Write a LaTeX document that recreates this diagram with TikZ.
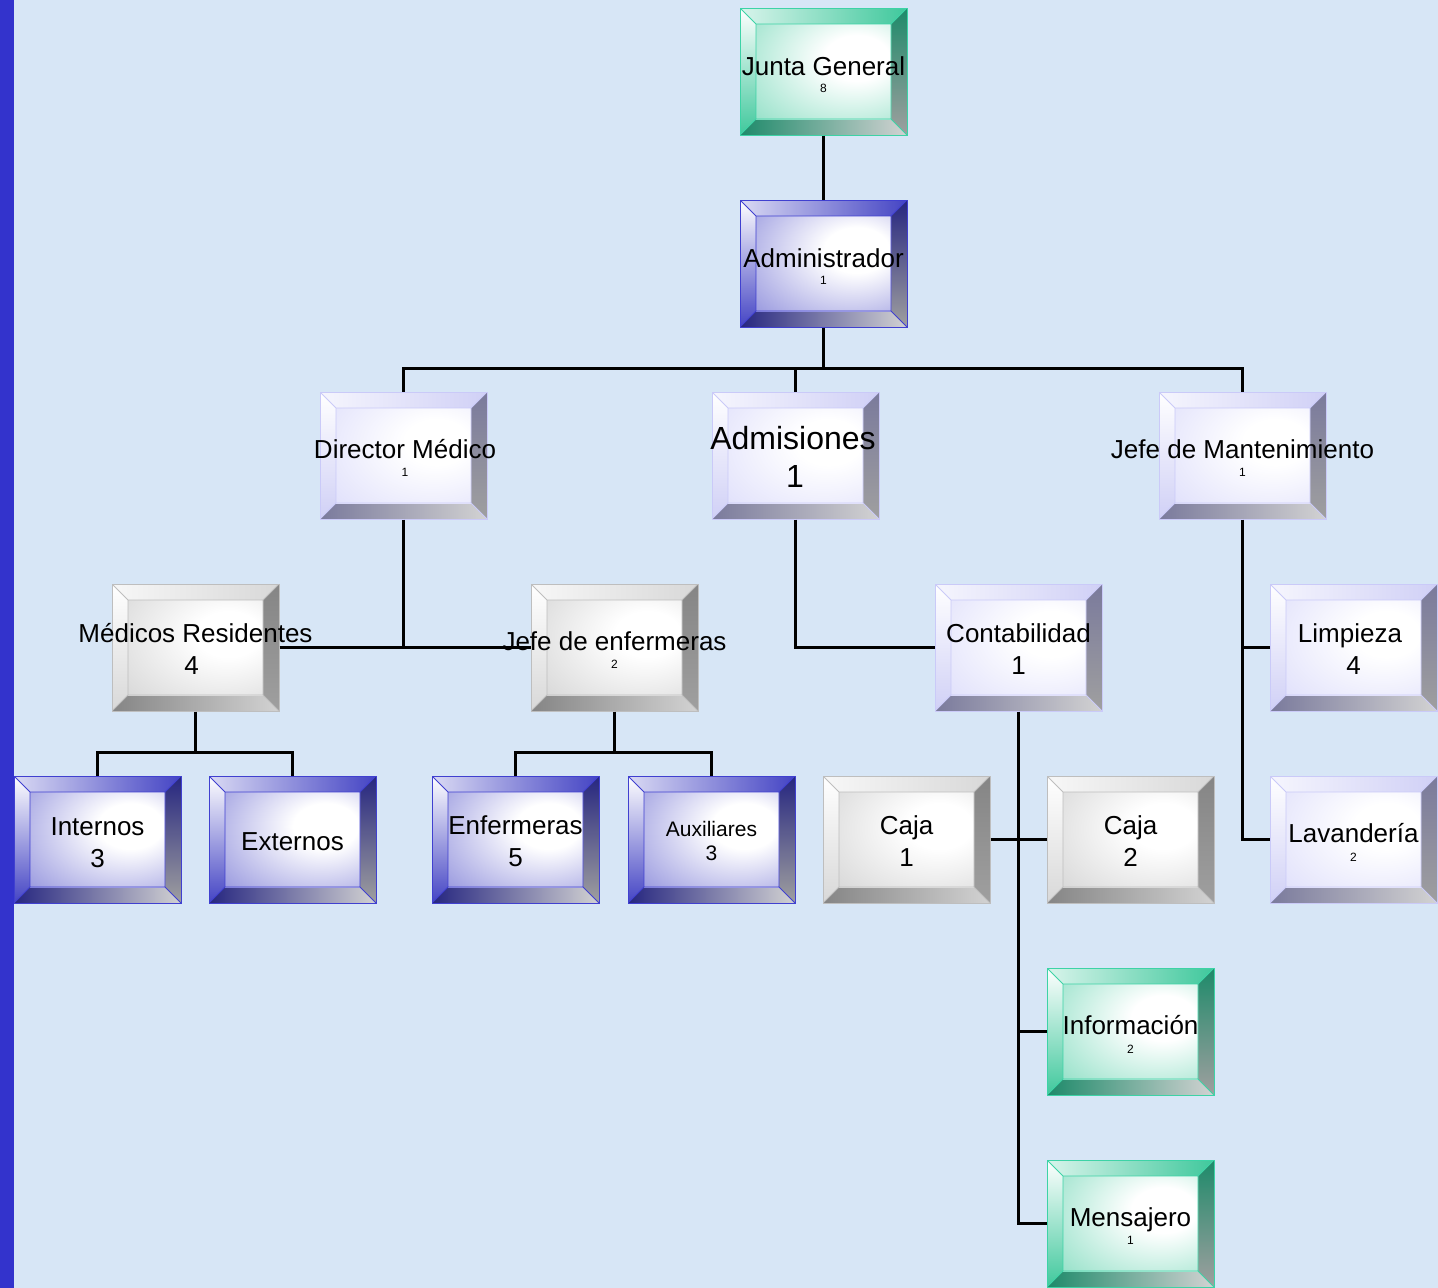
\documentclass[tikz,border=0pt]{standalone}
\usepackage{fontspec}
\setmainfont{Liberation Sans}
\usetikzlibrary{calc}
\definecolor{bgc}{HTML}{D7E6F6}
\definecolor{barc}{HTML}{3333CC}
\definecolor{gBd}{HTML}{3DD3A6}
\definecolor{gFc}{HTML}{3FC89C}
\definecolor{gDk}{HTML}{1E8A6A}
\definecolor{bBd}{HTML}{4040D0}
\definecolor{bFc}{HTML}{4444C4}
\definecolor{bDk}{HTML}{262680}
\definecolor{lBd}{HTML}{CACAF8}
\definecolor{lFc}{HTML}{C8C8F8}
\definecolor{lLt}{HTML}{D0D0F6}
\definecolor{lDk}{HTML}{7A7A9C}
\definecolor{yBd}{HTML}{BEBEBE}
\definecolor{yFc}{HTML}{B8B8B8}
\definecolor{yLt}{HTML}{D8D8D8}
\definecolor{yDk}{HTML}{858585}
\colorlet{facec}{gray}
\pgfdeclareradialshading[facec]{facesh}{\pgfpoint{14bp}{8bp}}{%
  color(0bp)=(white); color(12bp)=(white); color(45bp)=(facec!55!white);
  color(80bp)=(facec); color(100bp)=(facec)}
\tikzset{
  bev/.style n args={4}{rectangle, minimum width=167pt, minimum height=127pt,
    inner sep=0pt, draw=#1, line width=1pt,
    path picture={
      \path (path picture bounding box.north west) coordinate (pNW)
            (path picture bounding box.north east) coordinate (pNE)
            (path picture bounding box.south west) coordinate (pSW)
            (path picture bounding box.south east) coordinate (pSE);
      \path ([shift={(16pt,-16pt)}]pNW) coordinate (qNW)
            ([shift={(-16pt,-16pt)}]pNE) coordinate (qNE)
            ([shift={(16pt,16pt)}]pSW) coordinate (qSW)
            ([shift={(-16pt,16pt)}]pSE) coordinate (qSE);
      \shade[left color=#3!20!white, right color=#3] (pNW) -- (pNE) -- (qNE) -- (qNW) -- cycle;
      \shade[top color=white, bottom color=#3] (pNW) -- (qNW) -- (qSW) -- (pSW) -- cycle;
      \shade[top color=#4, bottom color=gray!75] (pNE) -- (pSE) -- (qSE) -- (qNE) -- cycle;
      \shade[left color=#4, right color=gray!35] (pSW) -- (qSW) -- (qSE) -- (pSE) -- cycle;
      \colorlet{facec}{#2}
      \shade[shading=facesh] (qNW) rectangle (qSE);
      \draw[#1, line width=0.8pt] (pNW) -- (qNW) (pNE) -- (qNE) (pSW) -- (qSW) (pSE) -- (qSE)
            (qNW) rectangle (qSE);
    }},
  greenbox/.style={bev={gBd}{gFc}{gFc}{gDk}},
  bluebox/.style={bev={bBd}{bFc}{bFc}{bDk}},
  lavbox/.style={bev={lBd}{lFc}{lLt}{lDk}},
  graybox/.style={bev={yBd}{yFc}{yLt}{yDk}},
  nm/.style={font=\fontsize{26}{30}\selectfont, anchor=base, inner sep=0pt},
  md/.style={font=\fontsize{21}{25}\selectfont, anchor=base, inner sep=0pt},
  bg/.style={font=\fontsize{32}{36}\selectfont, anchor=base, inner sep=0pt},
  sm/.style={font=\fontsize{12}{14}\selectfont, anchor=base, inner sep=0pt},
  cn/.style={line width=3pt, black}
}
\begin{document}
\begin{tikzpicture}[x=1pt,y=-1pt]
\useasboundingbox (0,0) rectangle (1438,1288);
\fill[bgc] (0,0) rectangle (1438,1288);
\fill[barc] (0,0) rectangle (14,1288);

% boxes
\node[greenbox] (jg) at (823.5,71.5) {};
\node[bluebox] (adm) at (823.5,263.5) {};
\node[lavbox] (dir) at (403.5,455.5) {};
\node[lavbox] (adms) at (795.5,455.5) {};
\node[lavbox] (jmant) at (1242.5,455.5) {};
\node[graybox] (med) at (195.5,647.5) {};
\node[graybox] (jenf) at (614.5,647.5) {};
\node[lavbox] (cont) at (1018.5,647.5) {};
\node[lavbox] (limp) at (1353.5,647.5) {};
\node[bluebox] (intern) at (97.5,839.5) {};
\node[bluebox] (ext) at (292.5,839.5) {};
\node[bluebox] (enf) at (515.5,839.5) {};
\node[bluebox] (aux) at (711.5,839.5) {};
\node[graybox] (caja1) at (906.5,839.5) {};
\node[graybox] (caja2) at (1130.5,839.5) {};
\node[lavbox] (lav) at (1353.5,839.5) {};
\node[greenbox] (info) at (1130.5,1031.5) {};
\node[greenbox] (mens) at (1130.5,1223.5) {};

% connectors
\coordinate (b1) at (823.5,368);
\coordinate (b2) at (195.5,752);
\coordinate (b3) at (614.5,752);
\draw[cn] (jg.south) -- (adm.north);
\draw[cn] (adm.south) -- (b1);
\draw[cn] (dir.north) |- (b1) -| (jmant.north);
\draw[cn] (adms.north) -- (adms.north |- b1);
\draw[cn] (dir.south) -- (dir.south |- med.east);
\draw[cn] (med.east) -- (jenf.west);
\draw[cn] (adms.south) |- (cont.west);
\draw[cn] (jmant.south) |- (lav.west);
\draw[cn] (limp.west) -- (limp.west -| jmant.south);
\draw[cn] (med.south) -- (b2);
\draw[cn] (intern.north) |- (b2) -| (ext.north);
\draw[cn] (jenf.south) -- (b3);
\draw[cn] (enf.north) |- (b3) -| (aux.north);
\draw[cn] (cont.south) |- (mens.west);
\draw[cn] (caja1.east) -- (caja2.west);
\draw[cn] (info.west) -- (info.west -| cont.south);

% texts
\node[nm] (jgT) at (823.5,75) {Junta General};
\node[sm] (jgN) at (823.5,92) {8};
\node[nm] (admT) at (823.5,267) {Administrador};
\node[sm] (admN) at (823.5,284) {1};
\node[nm] (dirT) at (405,458) {Director Médico};
\node[sm] (dirN) at (405,476) {1};
\node[bg] (admsT) at (793,449.5) {Admisiones};
\node[bg] (admsN) at (795,487.5) {1};
\node[nm] (jmantT) at (1242.5,458) {Jefe de Mantenimiento};
\node[sm] (jmantN) at (1242.5,476) {1};
\node[nm] (medT) at (195.5,642) {Médicos Residentes};
\node[nm] (medN) at (191.5,674) {4};
\node[nm] (jenfT) at (614.5,650) {Jefe de enfermeras};
\node[sm] (jenfN) at (614.5,668) {2};
\node[nm] (contT) at (1018.5,642) {Contabilidad};
\node[nm] (contN) at (1018.5,674) {1};
\node[nm] (limpT) at (1350,642) {Limpieza};
\node[nm] (limpN) at (1353.5,674) {4};
\node[nm] (internT) at (97.5,835) {Internos};
\node[nm] (internN) at (97.5,867) {3};
\node[nm] (extT) at (292.5,850) {Externos};
\node[nm] (enfT) at (515.5,834) {Enfermeras};
\node[nm] (enfN) at (515.5,866) {5};
\node[md] (auxT) at (711.5,836.5) {Auxiliares};
\node[md] (auxN) at (711.5,860.5) {3};
\node[nm] (caja1T) at (906.5,834) {Caja};
\node[nm] (caja1N) at (906.5,866) {1};
\node[nm] (caja2T) at (1130.5,834) {Caja};
\node[nm] (caja2N) at (1130.5,866) {2};
\node[nm] (lavT) at (1353.5,842) {Lavandería};
\node[sm] (lavN) at (1353.5,861) {2};
\node[nm] (infoT) at (1130.5,1034) {Información};
\node[sm] (infoN) at (1130.5,1053) {2};
\node[nm] (mensT) at (1130.5,1226) {Mensajero};
\node[sm] (mensN) at (1130.5,1244) {1};
\end{tikzpicture}
\end{document}
